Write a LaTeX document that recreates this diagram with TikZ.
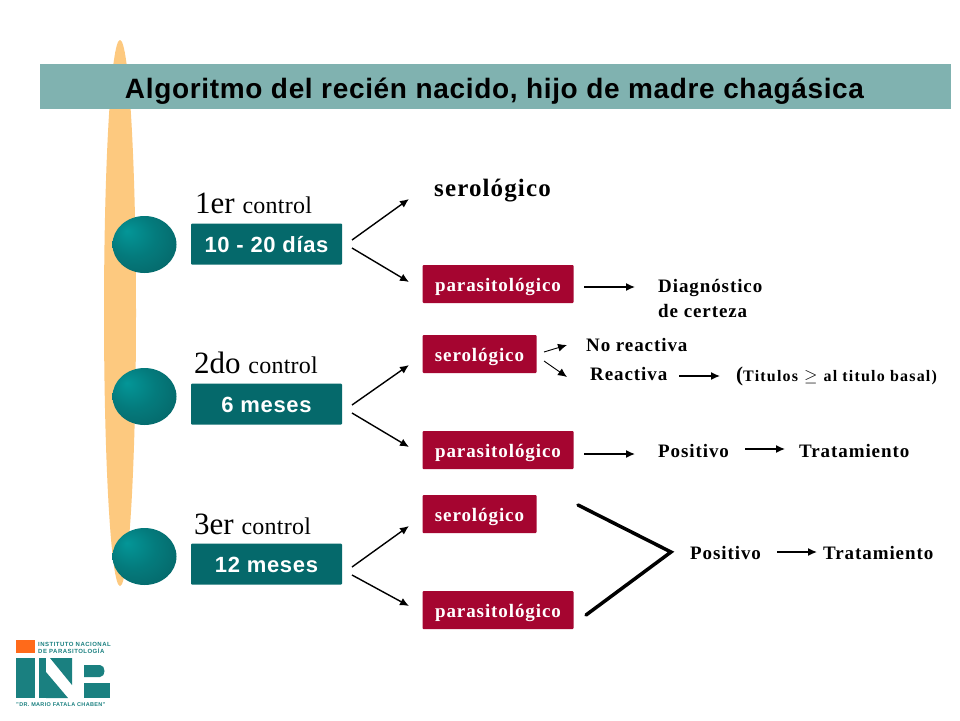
\documentclass[tikz,border=0pt]{standalone}
\usepackage{fontspec}
\setmainfont{Liberation Serif}
\setsansfont{Liberation Sans}
\usetikzlibrary{arrows.meta,shadings,shapes.geometric}
\definecolor{teal1}{HTML}{05696B}
\definecolor{bar}{HTML}{80B2B0}
\definecolor{peach}{HTML}{FDC97F}
\definecolor{crim}{HTML}{A50530}
\definecolor{inpteal}{HTML}{1A8080}
\definecolor{inporange}{HTML}{FF6A1A}
\pgfdeclareradialshading{ballshade}{\pgfpoint{-14bp}{12bp}}{color(0bp)=(teal1!70!cyan); color(18bp)=(teal1!88!cyan); color(34bp)=(teal1); color(56bp)=(teal1!45!black)}
\newcommand{\spc}[1]{\addfontfeatures{LetterSpace=#1}}
\tikzset{
  x=1pt,y=-1pt,
  ball/.style={ellipse,minimum width=64pt,minimum height=57pt,inner sep=0pt,shading=ballshade},
  tealbox/.style={fill=teal1,rounded corners=1pt,minimum width=151pt,minimum height=41pt,inner sep=0pt,text=white,text height=19pt,text depth=3pt,font=\sffamily\bfseries\fontsize{22}{26}\selectfont\spc{3}},
  redbox/.style={fill=crim,rounded corners=1pt,minimum height=38pt,inner sep=0pt,text=white,text height=17pt,text depth=3pt,font=\bfseries\fontsize{19}{22}\selectfont\spc{4.8}},
  serbox/.style={redbox,minimum width=114pt},
  parbox/.style={redbox,minimum width=151pt},
  ctl/.style={anchor=base west,inner sep=0pt,font=\fontsize{31}{34}\selectfont},
  lbl/.style={anchor=base west,inner sep=0pt,font=\bfseries\fontsize{19}{22}\selectfont\spc{4.8}},
  arr/.style={-{Latex[length=9pt,width=8pt]},line width=1.4pt},
  big/.style={line width=3.5pt,line cap=round,line join=miter},
  logotxt/.style={anchor=base west,inner sep=0pt,text=inpteal,font=\sffamily\bfseries\fontsize{6}{7}\selectfont\spc{8}}
}
\newcommand{\ctlw}{\fontsize{24}{28}\selectfont\spc{1}control}
\begin{document}
\begin{tikzpicture}
\useasboundingbox (0,0) rectangle (960,720);
\fill[white] (0,0) rectangle (960,720);
% peach ellipse and title bar
\node[ellipse,fill=peach,minimum width=32pt,minimum height=546pt,inner sep=0pt] (spine) at (120,313) {};
\fill[bar] (40,64) rectangle (951,109);
\node[inner sep=0pt,anchor=base,font=\sffamily\bfseries\fontsize{28}{32}\selectfont\spc{2.4}] (title) at (494.5,98) {Algoritmo del recién nacido, hijo de madre chagásica};
% balls
\node[ball] (b1) at (144.5,244.5) {};
\node[ball] (b2) at (144.5,396.5) {};
\node[ball] (b3) at (144.5,556.5) {};
% teal boxes
\node[tealbox] (t1) at (266.5,244) {10 - 20 días};
\node[tealbox] (t2) at (266.5,404) {6 meses};
\node[tealbox] (t3) at (266.5,564) {12 meses};
\node[ctl] (c1) at (195,213) {1er {\ctlw}};
\node[ctl] (c2) at (194,373) {2do {\ctlw}};
\node[ctl] (c3) at (194,534) {3er {\ctlw}};
% red boxes
\node[inner sep=0pt,anchor=base west,font=\bfseries\fontsize{25}{28}\selectfont\spc{4.5}] (s1) at (434,196) {serológico};
\node[parbox] (p1) at (498,284) {parasitológico};
\node[serbox] (s2) at (479.5,354) {serológico};
\node[parbox] (p2) at (498,450) {parasitológico};
\node[serbox] (s3) at (479.5,514) {serológico};
\node[parbox] (p3) at (498,610) {parasitológico};
% arrows from teal boxes
\coordinate (a1) at (352,240); \coordinate (a1u) at (409,199); \coordinate (a1d) at (409,282); \coordinate (a1s) at (352,248);
\draw[arr] (a1) -- (a1u);
\draw[arr] (a1s) -- (a1d);
\coordinate (a2) at (352,405); \coordinate (a2u) at (409,365); \coordinate (a2d) at (409,447); \coordinate (a2s) at (352,413);
\draw[arr] (a2) -- (a2u);
\draw[arr] (a2s) -- (a2d);
\coordinate (a3) at (352,567); \coordinate (a3u) at (409,526); \coordinate (a3d) at (409,606); \coordinate (a3s) at (352,575);
\draw[arr] (a3) -- (a3u);
\draw[arr] (a3s) -- (a3d);
% row 1
\node[lbl] (dx) at (658,292) {Diagnóstico};
\node[lbl] (dx2) at (658,317) {de certeza};
\coordinate (r1a) at (584,287); \coordinate (r1b) at (635,287);
\draw[arr] (r1a) -- (r1b);
% row 2
\node[lbl] (nr) at (586,351) {No reactiva};
\node[lbl] (re) at (590,380) {Reactiva};
\node[anchor=base west,inner sep=0pt,font=\bfseries] (ti) at (736,381) {{\fontsize{21}{24}\selectfont (}{\fontsize{16}{20}\selectfont\spc{7.5}Titulos\hspace{6pt}$\geq$\hspace{6pt}al titulo basal)}};
\coordinate (q1) at (544,352); \coordinate (q2) at (567,345); \coordinate (q3) at (544,361); \coordinate (q4) at (567,377);
\draw[arr,line width=.9pt] (q1) -- (q2);
\draw[arr,line width=.9pt] (q3) -- (q4);
\coordinate (q5) at (679,376); \coordinate (q6) at (720,376);
\draw[arr] (q5) -- (q6);
% row 3
\coordinate (r3a) at (584,454); \coordinate (r3b) at (635,454);
\draw[arr] (r3a) -- (r3b);
\node[lbl] (po1) at (658,457) {Positivo};
\coordinate (r3c) at (745,449); \coordinate (r3d) at (785,449);
\draw[arr] (r3c) -- (r3d);
\node[lbl] (tr1) at (799,457) {Tratamiento};
% big bracket
\coordinate (v1) at (578,505); \coordinate (v2) at (671,552); \coordinate (v3) at (586,615);
\draw[big] (v1) -- (v2) -- (v3);
\node[lbl] (po2) at (690,559) {Positivo};
\coordinate (r4a) at (777,552); \coordinate (r4b) at (817,552);
\draw[arr] (r4a) -- (r4b);
\node[lbl] (tr2) at (823,559) {Tratamiento};
% logo
\fill[inporange] (16,640) rectangle (35,653);
\node[logotxt] (l1) at (38,646) {INSTITUTO NACIONAL};
\node[logotxt] (l2) at (38,653) {DE PARASITOLOGÍA};
\fill[inpteal] (16,658) rectangle (35,698);
\fill[inpteal] (39,658) rectangle (46,698);
\fill[inpteal] (46,672) -- (68,698) -- (46,698) -- cycle;
\fill[inpteal] (50,658) -- (72,658) -- (72,685) -- cycle;
\fill[inpteal] (84,665) -- (100,665) .. controls (106,665) and (106,677) .. (100,677) -- (84,677) -- cycle;
\fill[inpteal] (84,683) -- (110,683) -- (110,698) -- (84,698) -- cycle;
\node[logotxt,font=\sffamily\bfseries\fontsize{5.5}{6}\selectfont\spc{6}] (l3) at (16,706) {"DR. MARIO FATALA CHABEN"};
\end{tikzpicture}
\end{document}
